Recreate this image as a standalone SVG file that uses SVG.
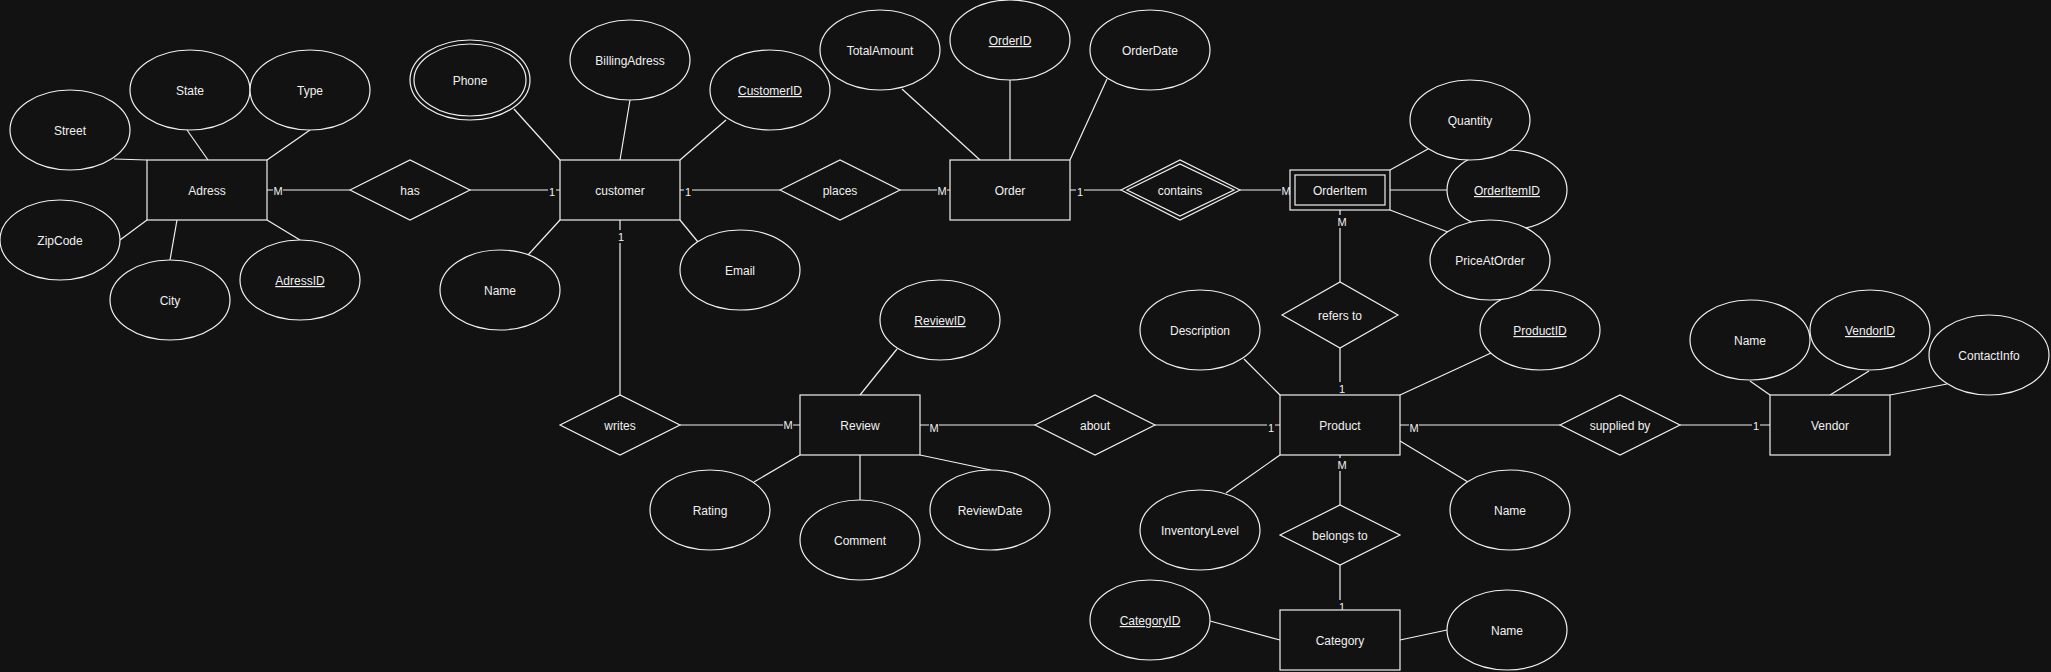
<svg xmlns="http://www.w3.org/2000/svg" width="2051" height="672" viewBox="0 0 2051 672">
<style>
.bg{fill:#121212}
.sh{fill:#121212;stroke:#f0f0f0;stroke-width:1.2}
.ln{stroke:#f0f0f0;stroke-width:1.2;fill:none}
.t{font-family:"Liberation Sans",Arial,sans-serif;font-size:12px;fill:#f0f0f0;text-anchor:middle;transform:translate(0px,1px)}
.u{text-decoration:underline}
.c{font-family:"Liberation Sans",Arial,sans-serif;font-size:11px;fill:#f0f0f0;text-anchor:middle}
</style>
<rect class="bg" x="0" y="0" width="2051" height="672"/>
<g id="connectors">
<line class="ln" x1="114" y1="159" x2="147" y2="160"/>
<line class="ln" x1="187" y1="130" x2="208" y2="160"/>
<line class="ln" x1="310" y1="130" x2="267" y2="160"/>
<line class="ln" x1="120" y1="240" x2="147" y2="220"/>
<line class="ln" x1="170" y1="260" x2="177" y2="220"/>
<line class="ln" x1="300" y1="240" x2="267" y2="220"/>
<line class="ln" x1="514" y1="109" x2="560" y2="160"/>
<line class="ln" x1="630" y1="100" x2="620" y2="160"/>
<line class="ln" x1="726" y1="120" x2="680" y2="160"/>
<line class="ln" x1="528" y1="255" x2="560" y2="220"/>
<line class="ln" x1="698" y1="242" x2="680" y2="220"/>
<line class="ln" x1="902" y1="89" x2="980" y2="160"/>
<line class="ln" x1="1010" y1="80" x2="1010" y2="160"/>
<line class="ln" x1="1107" y1="79" x2="1070" y2="160"/>
<line class="ln" x1="1428" y1="149" x2="1390" y2="170"/>
<line class="ln" x1="1390" y1="190" x2="1447" y2="190"/>
<line class="ln" x1="1448" y1="232" x2="1390" y2="210"/>
<line class="ln" x1="897" y1="349" x2="860" y2="395"/>
<line class="ln" x1="754" y1="482" x2="800" y2="455"/>
<line class="ln" x1="860" y1="455" x2="860" y2="500"/>
<line class="ln" x1="920" y1="455" x2="991" y2="470"/>
<line class="ln" x1="1244" y1="359" x2="1280" y2="395"/>
<line class="ln" x1="1491" y1="353" x2="1400" y2="395"/>
<line class="ln" x1="1226" y1="493" x2="1280" y2="455"/>
<line class="ln" x1="1400" y1="441" x2="1468" y2="482"/>
<line class="ln" x1="1210" y1="621" x2="1280" y2="640"/>
<line class="ln" x1="1400" y1="640" x2="1447" y2="630"/>
<line class="ln" x1="1750" y1="381" x2="1770" y2="395"/>
<line class="ln" x1="1869" y1="371" x2="1830" y2="395"/>
<line class="ln" x1="1947" y1="384" x2="1890" y2="395"/>
<line class="ln" x1="267" y1="190" x2="350" y2="190"/>
<line class="ln" x1="470" y1="190" x2="560" y2="190"/>
<line class="ln" x1="680" y1="190" x2="780" y2="190"/>
<line class="ln" x1="900" y1="190" x2="950" y2="190"/>
<line class="ln" x1="1070" y1="190" x2="1121" y2="190"/>
<line class="ln" x1="1240" y1="190" x2="1290" y2="190"/>
<line class="ln" x1="1340" y1="210" x2="1340" y2="282"/>
<line class="ln" x1="1340" y1="348" x2="1340" y2="395"/>
<line class="ln" x1="620" y1="220" x2="620" y2="395"/>
<line class="ln" x1="680" y1="425" x2="800" y2="425"/>
<line class="ln" x1="920" y1="425" x2="1035" y2="425"/>
<line class="ln" x1="1155" y1="425" x2="1280" y2="425"/>
<line class="ln" x1="1400" y1="425" x2="1560" y2="425"/>
<line class="ln" x1="1680" y1="425" x2="1770" y2="425"/>
<line class="ln" x1="1340" y1="455" x2="1340" y2="505"/>
<line class="ln" x1="1340" y1="565" x2="1340" y2="610"/>
<g id="cardinalities">
<rect class="bg" x="273" y="184" width="10" height="13"/><text class="c" x="278" y="195">M</text>
<rect class="bg" x="548" y="185" width="8" height="13"/><text class="c" x="552" y="196">1</text>
<rect class="bg" x="684" y="185" width="8" height="13"/><text class="c" x="688" y="196">1</text>
<rect class="bg" x="937" y="184" width="10" height="13"/><text class="c" x="942" y="195">M</text>
<rect class="bg" x="1076" y="185" width="8" height="13"/><text class="c" x="1080" y="196">1</text>
<rect class="bg" x="1281" y="184" width="10" height="13"/><text class="c" x="1286" y="195">M</text>
<rect class="bg" x="1337" y="215" width="10" height="13"/><text class="c" x="1342" y="226">M</text>
<rect class="bg" x="1338" y="382" width="8" height="13"/><text class="c" x="1342" y="393">1</text>
<rect class="bg" x="617" y="230" width="8" height="13"/><text class="c" x="621" y="241">1</text>
<rect class="bg" x="783" y="418" width="10" height="13"/><text class="c" x="788" y="429">M</text>
<rect class="bg" x="929" y="421" width="10" height="13"/><text class="c" x="934" y="432">M</text>
<rect class="bg" x="1267" y="421" width="8" height="13"/><text class="c" x="1271" y="432">1</text>
<rect class="bg" x="1409" y="421" width="10" height="13"/><text class="c" x="1414" y="432">M</text>
<rect class="bg" x="1752" y="419" width="8" height="13"/><text class="c" x="1756" y="430">1</text>
<rect class="bg" x="1337" y="458" width="10" height="13"/><text class="c" x="1342" y="469">M</text>
<rect class="bg" x="1338" y="600" width="8" height="13"/><text class="c" x="1342" y="611">1</text>
</g>
</g>
<g id="Adress"><rect class="sh" x="147" y="160" width="120" height="60"/><text class="t" x="207" y="194">Adress</text></g>
<g id="customer"><rect class="sh" x="560" y="160" width="120" height="60"/><text class="t" x="620" y="194">customer</text></g>
<g id="Order"><rect class="sh" x="950" y="160" width="120" height="60"/><text class="t" x="1010" y="194">Order</text></g>
<g id="OrderItem"><rect class="sh" x="1290" y="170" width="100" height="40"/><rect class="sh" x="1295" y="175" width="90" height="30"/><text class="t" x="1340" y="194">OrderItem</text></g>
<g id="Review"><rect class="sh" x="800" y="395" width="120" height="60"/><text class="t" x="860" y="429">Review</text></g>
<g id="Product"><rect class="sh" x="1280" y="395" width="120" height="60"/><text class="t" x="1340" y="429">Product</text></g>
<g id="Vendor"><rect class="sh" x="1770" y="395" width="120" height="60"/><text class="t" x="1830" y="429">Vendor</text></g>
<g id="Category"><rect class="sh" x="1280" y="610" width="120" height="60"/><text class="t" x="1340" y="644">Category</text></g>
<g id="has"><polygon class="sh" points="350,190 410,160 470,190 410,220"/><text class="t" x="410" y="194">has</text></g>
<g id="places"><polygon class="sh" points="780,190 840,160 900,190 840,220"/><text class="t" x="840" y="194">places</text></g>
<g id="contains"><polygon class="sh" points="1121,190 1180,160 1240,190 1180,220"/><polygon class="sh" points="1127,190 1180,164 1234,190 1180,216"/><text class="t" x="1180" y="194">contains</text></g>
<g id="refers_to"><polygon class="sh" points="1282,315 1340,282 1398,315 1340,348"/><text class="t" x="1340" y="319">refers to</text></g>
<g id="writes"><polygon class="sh" points="560,425 620,395 680,425 620,455"/><text class="t" x="620" y="429">writes</text></g>
<g id="about"><polygon class="sh" points="1035,425 1095,395 1155,425 1095,455"/><text class="t" x="1095" y="429">about</text></g>
<g id="supplied_by"><polygon class="sh" points="1560,425 1620,395 1680,425 1620,455"/><text class="t" x="1620" y="429">supplied by</text></g>
<g id="belongs_to"><polygon class="sh" points="1280,535 1340,505 1400,535 1340,565"/><text class="t" x="1340" y="539">belongs to</text></g>
<g id="Street"><ellipse class="sh" cx="70" cy="130" rx="60" ry="40"/><text class="t" x="70" y="134">Street</text></g>
<g id="State"><ellipse class="sh" cx="190" cy="90" rx="60" ry="40"/><text class="t" x="190" y="94">State</text></g>
<g id="Type"><ellipse class="sh" cx="310" cy="90" rx="60" ry="40"/><text class="t" x="310" y="94">Type</text></g>
<g id="ZipCode"><ellipse class="sh" cx="60" cy="240" rx="60" ry="40"/><text class="t" x="60" y="244">ZipCode</text></g>
<g id="City"><ellipse class="sh" cx="170" cy="300" rx="60" ry="40"/><text class="t" x="170" y="304">City</text></g>
<g id="AdressID"><ellipse class="sh" cx="300" cy="280" rx="60" ry="40"/><text class="t u" x="300" y="284">AdressID</text></g>
<g id="Phone"><ellipse class="sh" cx="470" cy="80" rx="60" ry="40"/><ellipse class="sh" cx="470" cy="80" rx="56" ry="36"/><text class="t" x="470" y="84">Phone</text></g>
<g id="BillingAdress"><ellipse class="sh" cx="630" cy="60" rx="60" ry="40"/><text class="t" x="630" y="64">BillingAdress</text></g>
<g id="CustomerID"><ellipse class="sh" cx="770" cy="90" rx="60" ry="40"/><text class="t u" x="770" y="94">CustomerID</text></g>
<g id="CustomerName"><ellipse class="sh" cx="500" cy="290" rx="60" ry="40"/><text class="t" x="500" y="294">Name</text></g>
<g id="Email"><ellipse class="sh" cx="740" cy="270" rx="60" ry="40"/><text class="t" x="740" y="274">Email</text></g>
<g id="TotalAmount"><ellipse class="sh" cx="880" cy="50" rx="60" ry="40"/><text class="t" x="880" y="54">TotalAmount</text></g>
<g id="OrderID"><ellipse class="sh" cx="1010" cy="40" rx="60" ry="40"/><text class="t u" x="1010" y="44">OrderID</text></g>
<g id="OrderDate"><ellipse class="sh" cx="1150" cy="50" rx="60" ry="40"/><text class="t" x="1150" y="54">OrderDate</text></g>
<g id="OrderItemID"><ellipse class="sh" cx="1507" cy="190" rx="60" ry="40"/><text class="t u" x="1507" y="194">OrderItemID</text></g>
<g id="Quantity"><ellipse class="sh" cx="1470" cy="120" rx="60" ry="40"/><text class="t" x="1470" y="124">Quantity</text></g>
<g id="ProductID"><ellipse class="sh" cx="1540" cy="330" rx="60" ry="40"/><text class="t u" x="1540" y="334">ProductID</text></g>
<g id="PriceAtOrder"><ellipse class="sh" cx="1490" cy="260" rx="60" ry="40"/><text class="t" x="1490" y="264">PriceAtOrder</text></g>
<g id="ReviewID"><ellipse class="sh" cx="940" cy="320" rx="60" ry="40"/><text class="t u" x="940" y="324">ReviewID</text></g>
<g id="Rating"><ellipse class="sh" cx="710" cy="510" rx="60" ry="40"/><text class="t" x="710" y="514">Rating</text></g>
<g id="Comment"><ellipse class="sh" cx="860" cy="540" rx="60" ry="40"/><text class="t" x="860" y="544">Comment</text></g>
<g id="ReviewDate"><ellipse class="sh" cx="990" cy="510" rx="60" ry="40"/><text class="t" x="990" y="514">ReviewDate</text></g>
<g id="Description"><ellipse class="sh" cx="1200" cy="330" rx="60" ry="40"/><text class="t" x="1200" y="334">Description</text></g>
<g id="InventoryLevel"><ellipse class="sh" cx="1200" cy="530" rx="60" ry="40"/><text class="t" x="1200" y="534">InventoryLevel</text></g>
<g id="ProductName"><ellipse class="sh" cx="1510" cy="510" rx="60" ry="40"/><text class="t" x="1510" y="514">Name</text></g>
<g id="CategoryID"><ellipse class="sh" cx="1150" cy="620" rx="60" ry="40"/><text class="t u" x="1150" y="624">CategoryID</text></g>
<g id="CategoryName"><ellipse class="sh" cx="1507" cy="630" rx="60" ry="40"/><text class="t" x="1507" y="634">Name</text></g>
<g id="VendorName"><ellipse class="sh" cx="1750" cy="340" rx="60" ry="40"/><text class="t" x="1750" y="344">Name</text></g>
<g id="VendorID"><ellipse class="sh" cx="1870" cy="330" rx="60" ry="40"/><text class="t u" x="1870" y="334">VendorID</text></g>
<g id="ContactInfo"><ellipse class="sh" cx="1989" cy="355" rx="60" ry="40"/><text class="t" x="1989" y="359">ContactInfo</text></g>
</svg>
